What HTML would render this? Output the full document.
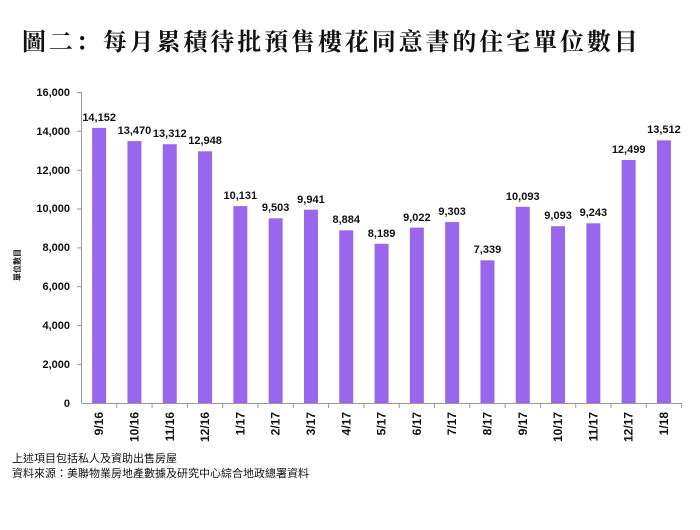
<!DOCTYPE html>
<html><head><meta charset="utf-8"><style>
body{margin:0;background:#fff;width:700px;height:525px;overflow:hidden}
</style></head><body>
<svg width="700" height="525" xmlns="http://www.w3.org/2000/svg" font-family="'Liberation Sans','Noto Sans CJK TC',sans-serif">
<text x="22" y="50" font-family="'Liberation Serif','Noto Serif CJK SC',serif" font-size="24" font-weight="bold" letter-spacing="2.9" fill="#111">圖二：每月累積待批預售樓花同意書的住宅單位數目</text>
<g font-size="11" font-weight="bold" fill="#111" text-anchor="end">
<text x="70" y="96">16,000</text><text x="70" y="135">14,000</text><text x="70" y="174">12,000</text><text x="70" y="212">10,000</text><text x="70" y="251">8,000</text><text x="70" y="290">6,000</text><text x="70" y="329">4,000</text><text x="70" y="368">2,000</text><text x="70" y="407">0</text>
</g>
<g stroke="#999" stroke-width="1">
<line x1="81.5" y1="92" x2="81.5" y2="403"/><line x1="81.5" y1="403.5" x2="682" y2="403.5"/>
<line x1="77" y1="92.5" x2="81.5" y2="92.5"/><line x1="77" y1="131.3" x2="81.5" y2="131.3"/><line x1="77" y1="170.2" x2="81.5" y2="170.2"/><line x1="77" y1="209" x2="81.5" y2="209"/><line x1="77" y1="247.9" x2="81.5" y2="247.9"/><line x1="77" y1="286.7" x2="81.5" y2="286.7"/><line x1="77" y1="325.6" x2="81.5" y2="325.6"/><line x1="77" y1="364.4" x2="81.5" y2="364.4"/>
<line x1="116.8" y1="403" x2="116.8" y2="408"/><line x1="152.1" y1="403" x2="152.1" y2="408"/><line x1="187.4" y1="403" x2="187.4" y2="408"/><line x1="222.7" y1="403" x2="222.7" y2="408"/><line x1="258" y1="403" x2="258" y2="408"/><line x1="293.3" y1="403" x2="293.3" y2="408"/><line x1="328.6" y1="403" x2="328.6" y2="408"/><line x1="363.9" y1="403" x2="363.9" y2="408"/><line x1="399.2" y1="403" x2="399.2" y2="408"/><line x1="434.5" y1="403" x2="434.5" y2="408"/><line x1="469.8" y1="403" x2="469.8" y2="408"/><line x1="505.1" y1="403" x2="505.1" y2="408"/><line x1="540.4" y1="403" x2="540.4" y2="408"/><line x1="575.7" y1="403" x2="575.7" y2="408"/><line x1="611" y1="403" x2="611" y2="408"/><line x1="646.3" y1="403" x2="646.3" y2="408"/><line x1="681.6" y1="403" x2="681.6" y2="408"/>
</g>
<text transform="translate(20,265) rotate(-90)" font-size="8" font-weight="bold" text-anchor="middle" fill="#111">單位數目</text>
<g fill="#9966ee">
<rect x="92.15" y="127.9" width="14" height="275.1"/>
<rect x="127.45" y="141.1" width="14" height="261.9"/>
<rect x="162.75" y="144.2" width="14" height="258.8"/>
<rect x="198.05" y="151.3" width="14" height="251.7"/>
<rect x="233.35" y="206.1" width="14" height="196.9"/>
<rect x="268.65" y="218.3" width="14" height="184.7"/>
<rect x="303.95" y="209.7" width="14" height="193.3"/>
<rect x="339.25" y="230.3" width="14" height="172.7"/>
<rect x="374.55" y="243.8" width="14" height="159.2"/>
<rect x="409.85" y="227.6" width="14" height="175.4"/>
<rect x="445.15" y="222.1" width="14" height="180.9"/>
<rect x="480.45" y="260.3" width="14" height="142.7"/>
<rect x="515.75" y="206.8" width="14" height="196.2"/>
<rect x="551.05" y="226.2" width="14" height="176.8"/>
<rect x="586.35" y="223.3" width="14" height="179.7"/>
<rect x="621.65" y="160.0" width="14" height="243.0"/>
<rect x="656.95" y="140.3" width="14" height="262.7"/>
</g>
<g font-size="11" font-weight="bold" text-anchor="middle" fill="#111">
<text x="99.15" y="121">14,152</text>
<text x="134.45" y="134">13,470</text>
<text x="169.75" y="137">13,312</text>
<text x="205.05" y="144">12,948</text>
<text x="240.35" y="199">10,131</text>
<text x="275.65" y="211">9,503</text>
<text x="310.95" y="203">9,941</text>
<text x="346.25" y="223">8,884</text>
<text x="381.55" y="237">8,189</text>
<text x="416.85" y="221">9,022</text>
<text x="452.15" y="215">9,303</text>
<text x="487.45" y="253">7,339</text>
<text x="522.75" y="200">10,093</text>
<text x="558.05" y="219">9,093</text>
<text x="593.35" y="216">9,243</text>
<text x="628.65" y="153">12,499</text>
<text x="663.95" y="133">13,512</text>
</g>
<g font-size="12" font-weight="bold" text-anchor="end" fill="#111">
<text transform="translate(103.15,412) rotate(-90)">9/16</text>
<text transform="translate(138.45,412) rotate(-90)">10/16</text>
<text transform="translate(173.75,412) rotate(-90)">11/16</text>
<text transform="translate(209.05,412) rotate(-90)">12/16</text>
<text transform="translate(244.35,412) rotate(-90)">1/17</text>
<text transform="translate(279.65,412) rotate(-90)">2/17</text>
<text transform="translate(314.95,412) rotate(-90)">3/17</text>
<text transform="translate(350.25,412) rotate(-90)">4/17</text>
<text transform="translate(385.55,412) rotate(-90)">5/17</text>
<text transform="translate(420.85,412) rotate(-90)">6/17</text>
<text transform="translate(456.15,412) rotate(-90)">7/17</text>
<text transform="translate(491.45,412) rotate(-90)">8/17</text>
<text transform="translate(526.75,412) rotate(-90)">9/17</text>
<text transform="translate(562.05,412) rotate(-90)">10/17</text>
<text transform="translate(597.35,412) rotate(-90)">11/17</text>
<text transform="translate(632.65,412) rotate(-90)">12/17</text>
<text transform="translate(667.95,412) rotate(-90)">1/18</text>
</g>
<text x="12" y="462" font-size="11" fill="#111">上述項目包括私人及資助出售房屋</text>
<text x="12" y="477" font-size="11" fill="#111">資料來源：美聯物業房地產數據及研究中心綜合地政總署資料</text>
</svg>
</body></html>
